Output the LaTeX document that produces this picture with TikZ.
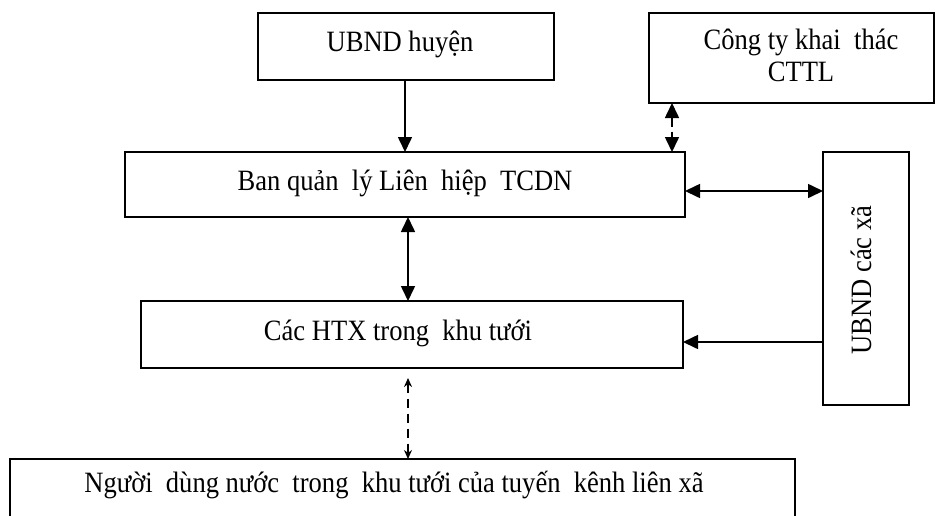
\documentclass[tikz,border=0pt]{standalone}
\usepackage{fontspec}
\setmainfont[FakeStretch=0.9]{Liberation Serif}
\usetikzlibrary{arrows.meta}
\begin{document}
\begin{tikzpicture}[x=1pt,y=-1pt,
  box/.style={draw,line width=1.8pt,inner sep=0pt,outer sep=0pt},
  txt/.style={inner sep=0pt,font=\fontsize{29.5}{32}\selectfont,align=center},
  conn/.style={line width=1.6pt},
  bigtip/.style={-{Triangle[length=15pt,width=14pt]}},
  bothtip/.style={{Triangle[length=15pt,width=14pt]}-{Triangle[length=15pt,width=14pt]}},
  smalltips/.style={{Stealth[length=9pt,width=8pt]}-{Stealth[length=9pt,width=8pt]}},
  dash1/.style={dash pattern=on 9pt off 5pt},
  dash2/.style={dash pattern=on 9pt off 6pt}]
\useasboundingbox (0,0) rectangle (935,515);
\clip (0,0) rectangle (935,515);
% boxes
\node[box,minimum width=296pt,minimum height=67pt] (huyen) at (406,46.5) {};
\node[txt] (huyenT) at (400,44) {UBND\ huyện};
\node[box,minimum width=285pt,minimum height=90pt] (cty) at (791.5,58) {};
\node[txt] (ctyT) at (801,55) {Công ty khai\ \ thác\\CTTL};
\node[box,minimum width=560pt,minimum height=65pt] (ban) at (405,184.5) {};
\node[txt] (banT) at (405,183) {Ban quản\ \ lý Liên\ \ hiệp\ \ TCDN};
\node[box,minimum width=86pt,minimum height=253pt] (xa) at (866,278.5) {};
\node[txt,rotate=90] (xaT) at (861,280) {UBND các xã};
\node[box,minimum width=542pt,minimum height=67pt] (htx) at (412,334.5) {};
\node[txt] (htxT) at (398,333) {Các HTX trong\ \ khu tưới};
\node[box,minimum width=785pt,minimum height=90pt] (nguoi) at (402.5,504) {};
\node[txt,anchor=base] (nguoiT) at (394,492) {Người\ \ dùng nước\ \ trong\ \ khu tưới\ của tuyến\ \ kênh\ liên xã};
% connectors
\draw[conn,bigtip] (huyen.south -| ban.north) -- (ban.north);
\draw[conn,bothtip,dash1] ([xshift=23pt]cty.south west) -- ([xshift=23pt]cty.south west |- ban.north);
\draw[conn,bothtip] ([yshift=-6.5pt]ban.east) -- ([yshift=-6.5pt]ban.east -| xa.west);
\draw[conn,bigtip] ([yshift=-7.5pt]htx.east -| xa.west) -- ([yshift=-7.5pt]htx.east);
\draw[conn,bothtip] ([xshift=3pt]ban.south) -- ([xshift=3pt]ban.south |- htx.north);
\draw[conn,smalltips,dash2] ([xshift=-4pt,yshift=-10pt]htx.south) -- ([xshift=-4pt]htx.south |- nguoi.north);
\end{tikzpicture}
\end{document}
